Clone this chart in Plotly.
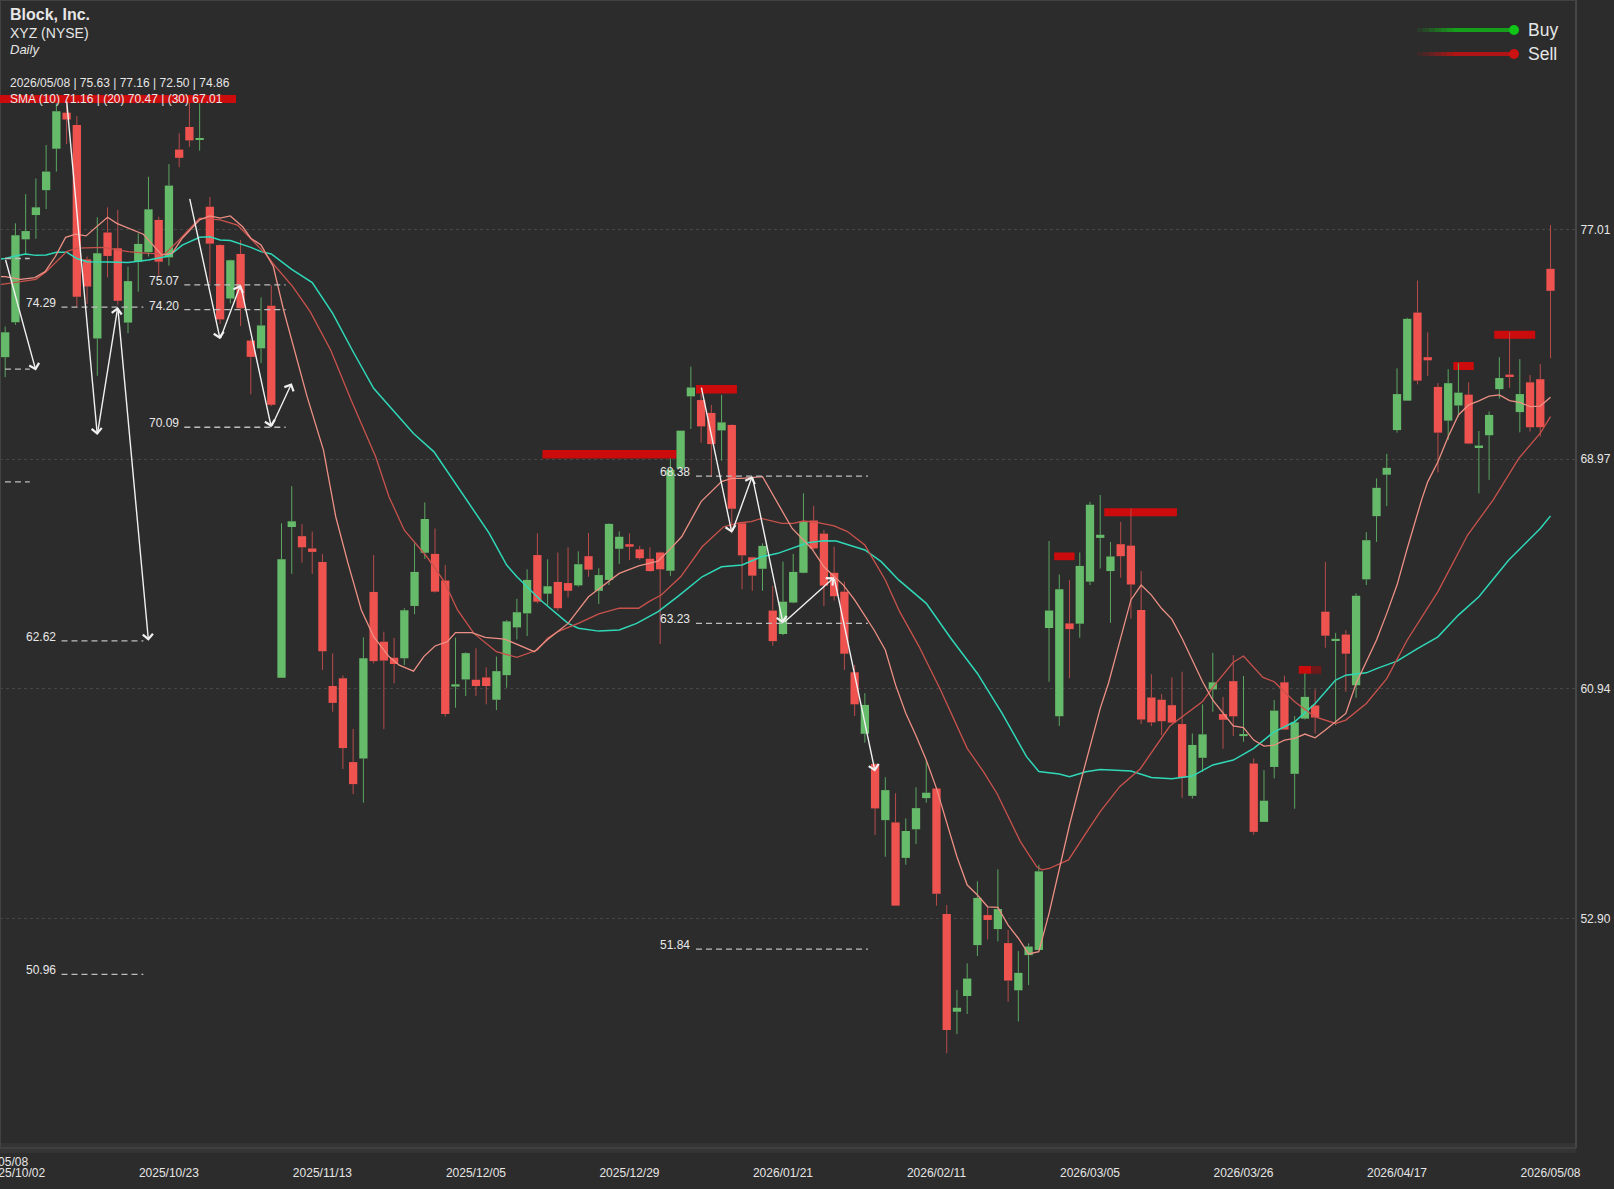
import plotly.graph_objects as go

#candles, index 0..151
opens=[72.54,73.76,76.66,77.51,78.38,79.83,81.09,80.66,75.96,73.19,
76.90,76.35,73.75,75.88,76.21,77.34,76.03,79.80,80.59,80.15,
77.80,76.46,74.59,76.15,73.12,72.85,74.34,61.33,66.60,66.28,
65.85,65.38,61.04,61.31,58.38,58.51,64.33,62.59,62.03,62.01,
63.84,65.70,65.66,64.73,61.02,61.27,61.26,61.34,60.56,61.42,
63.09,63.58,65.62,64.27,64.68,64.64,64.56,65.58,64.37,64.75,
65.84,66.00,65.82,65.49,65.71,65.07,68.65,71.17,71.04,70.59,
69.98,70.17,66.73,65.54,65.14,63.68,62.86,63.96,65.00,66.83,
66.37,65.00,64.34,61.52,59.37,58.31,56.35,56.27,55.03,56.03,
57.12,57.46,53.07,49.65,50.20,51.98,53.03,52.54,52.05,50.40,
51.63,51.81,63.07,59.98,63.23,63.22,64.69,66.22,65.06,66.00,
65.95,63.70,60.64,60.56,60.37,59.71,57.20,58.53,60.92,60.06,
61.21,59.29,58.33,56.29,58.21,61.17,57.97,59.90,60.36,63.64,
62.63,62.84,61.07,64.77,66.98,68.43,69.99,71.02,74.10,72.54,
71.50,70.32,70.85,71.23,69.39,69.81,71.42,71.93,70.62,71.66,
71.77,75.63]
highs=[73.61,77.22,78.24,78.79,79.96,81.42,81.53,80.97,76.06,77.43,
77.78,77.69,75.71,76.87,78.85,77.45,79.29,80.37,81.47,81.42,
78.15,76.49,75.95,76.64,73.17,74.63,75.06,66.73,68.03,66.70,
66.44,65.66,62.18,61.41,59.54,62.74,65.62,62.94,62.72,63.76,
66.03,67.46,66.55,65.27,62.73,62.22,62.36,61.69,62.07,63.35,
64.09,65.12,66.38,65.47,65.71,65.89,65.75,66.39,65.16,66.73,
66.45,66.38,65.94,65.89,65.74,69.00,69.97,72.21,71.27,70.87,
71.22,70.19,66.75,65.56,66.03,64.54,65.39,65.66,67.78,67.34,
66.50,65.91,64.69,61.78,60.79,58.34,57.85,57.29,56.41,57.50,
58.45,57.50,53.38,50.41,51.34,54.21,53.32,54.63,52.51,51.77,
52.04,54.79,66.11,64.94,64.74,65.71,67.48,67.72,66.08,66.78,
67.25,65.06,61.45,60.76,61.34,61.54,59.38,60.40,62.20,60.66,
62.12,61.39,58.51,58.10,60.55,61.40,59.99,61.48,60.92,65.38,
62.90,62.99,64.28,66.42,68.30,69.16,72.15,73.92,75.22,73.41,
71.63,72.12,72.33,71.66,69.96,70.64,72.54,73.43,72.47,71.92,
72.30,77.16]
lows=[71.84,73.67,76.11,76.68,77.72,79.03,79.99,74.28,74.40,71.89,
75.33,74.37,73.38,74.83,76.06,75.36,75.74,79.18,79.89,79.76,
75.12,73.70,74.42,73.63,71.24,72.33,70.83,61.33,64.96,65.36,
64.96,61.60,60.14,58.14,57.26,56.96,61.83,59.54,61.13,61.77,
63.55,65.48,64.31,59.97,60.28,60.69,60.69,60.40,60.20,60.98,
62.67,62.79,63.93,63.87,63.68,64.14,64.51,64.86,63.91,64.57,
65.31,65.45,65.45,65.04,62.51,64.89,68.59,70.03,69.55,68.36,
68.92,66.38,64.42,64.37,64.37,62.45,62.82,63.93,64.98,65.80,
63.84,64.03,61.60,59.99,59.06,55.83,55.07,53.35,54.79,55.51,
56.96,53.36,48.20,48.87,49.57,51.60,52.18,52.11,50.00,49.31,
50.58,51.79,61.19,59.64,61.31,62.73,64.57,65.15,63.25,64.83,
63.40,59.71,59.64,59.32,59.73,57.13,57.10,58.04,60.14,58.85,
59.29,59.09,55.84,56.29,57.81,59.50,56.75,59.87,59.38,62.38,
59.67,60.84,60.63,64.57,66.08,67.33,69.90,71.01,71.59,71.88,
68.51,69.65,70.46,69.49,67.78,68.25,71.09,71.47,69.91,69.94,
69.76,72.50]
closes=[73.41,76.80,76.95,77.78,79.03,81.14,80.85,74.65,75.01,76.17,
76.08,74.51,75.20,76.50,77.71,75.88,78.54,79.51,80.12,80.19,
76.51,73.86,75.93,74.25,72.55,73.65,70.88,65.47,66.80,65.89,
65.73,62.26,60.45,58.87,57.61,62.01,61.91,61.93,61.81,63.69,
65.03,66.88,64.34,60.06,61.10,62.19,61.04,61.04,61.56,63.30,
63.62,64.75,63.99,64.53,63.76,64.37,65.30,65.11,64.92,66.71,
66.26,65.91,65.51,65.06,65.12,68.60,69.97,71.48,70.12,69.50,
70.26,67.24,65.61,64.90,65.94,62.61,63.99,65.03,66.80,65.85,
64.55,64.18,62.17,60.40,60.38,56.76,57.40,53.36,55.97,56.77,
57.31,53.78,49.01,49.79,50.81,53.63,52.86,53.24,50.74,51.01,
51.93,54.56,63.68,64.42,63.03,65.24,67.38,66.33,65.57,65.58,
64.59,59.87,59.77,59.81,59.76,57.84,58.98,59.35,61.17,59.86,
59.98,59.36,55.94,57.03,60.18,59.52,59.77,60.66,59.94,62.80,
62.69,62.17,64.20,66.14,67.97,68.67,71.25,73.88,71.72,72.43,
69.90,71.63,71.30,69.52,69.45,70.52,71.81,71.88,71.25,70.09,
70.09,74.86]
candle_x=list(range(len(opens)))

#moving averages, read at the corners of each line
sma10_x=[-1,0,1.5,2.9,3.9,4.9,5.9,6.9,7.9,8.9,10,10.9,12,13.5,14.3,15.3,16.3,17.3,19,20,21,22,23.2,24,25,26.2,27.2,28.2,29.5,
31.1,32.3,33.5,34.8,36,37.5,38.5,39.9,40.9,42,43.2,44,45.6,46.9,48.8,50.3,51.7,53,55,57,59,60,61.9,63.8,64.9,66.1,68,69,70,71,72,74,75,76,76.9,78.8,80,81.9,83,84.9,86,87,88,89,90,91,92,93,94,95,96,97,98,99,100,101,102,103,104,105,106,107,107.8,110,111,112,113,114,115,116,117,118,119,120,121,122,123,124,125,126,127,128,129,130,131,132,133,134,135,136,137,138,138.4,139,140,141,142,143,144,145,146,147,148,149,150,151]
sma10=[75.36,75.36,75.26,75.32,75.53,76.06,76.73,76.84,76.78,77.10,77.43,77.22,77.05,76.84,76.52,76.11,76.17,76.70,77.34,77.48,77.40,77.48,77.10,76.70,76.46,75.71,74.19,72.91,71.16,
69.29,66.96,65.33,63.70,62.77,62.07,61.77,61.56,62.07,62.44,62.59,62.91,62.91,62.74,62.68,62.45,62.24,62.67,63.23,64.16,64.69,64.98,65.24,65.41,65.80,66.26,67.49,67.84,68.19,68.30,68.30,68.36,67.72,67.08,66.55,65.85,65.21,64.57,64.05,63.00,62.30,61.08,60.09,59.30,58.45,57.46,56.24,55.07,54.08,53.73,53.32,53.30,52.68,52.22,51.67,51.75,53.09,54.61,56.18,57.58,58.92,60.26,61.13,64.05,64.57,64.22,63.75,63.38,62.70,61.95,61.19,60.55,60.08,59.65,59.59,59.15,58.94,58.97,59.15,59.21,59.36,59.23,59.50,59.79,60.08,61.13,61.89,62.65,63.58,64.57,65.85,67.13,67.55,68.18,68.88,69.76,70.52,70.87,71.01,71.18,71.22,71.02,70.96,70.81,70.83,71.14]
sma20_x=[-1,0,3,4,6,7,9.6,12,14,15.6,17,19,21,22.7,24,25.4,26.4,28.1,29.8,31.8,33.8,36.2,37.5,39,41.2,42.9,44.2,45.8,48,50,52,53,54,56,58,60,61.9,62.9,64.1,66,68.1,70.2,71.8,72.9,73.9,75.9,77,78,79.3,81,82.3,84,86,87.4,89.3,91.4,94,95.6,96.9,99.2,100.8,101.3,102,103.9,105.7,107,108.9,110.9,113.8,117,118.3,120,121,122.9,124,126,128,130,131,133,135,137,140,142.9,145.4,147.9,150,151]
sma20=[75.05,75.10,75.26,75.53,76.23,76.35,76.38,76.23,76.17,76.15,76.64,77.40,77.34,77.16,76.70,76.17,75.71,75.01,74.13,72.79,71.04,69.06,67.66,66.49,65.56,64.69,63.70,62.88,62.24,62.04,62.30,62.71,62.94,63.23,63.56,63.76,63.76,63.99,64.22,64.86,65.91,66.61,66.75,66.79,66.90,66.73,66.73,66.81,66.76,66.64,66.44,65.97,64.75,63.64,62.42,60.90,58.86,58.04,57.29,55.60,54.72,54.61,54.66,54.96,55.95,56.65,57.52,58.14,59.64,60.50,61.13,61.87,62.09,61.34,61.19,60.49,59.96,59.73,59.85,60.43,61.30,62.65,64.34,66.32,67.55,69.00,69.88,70.46]
sma30_x=[-1,0,1,2,3,4,5,6,7,8,10,12,14,16,17.3,19,20,21,22,24,25,26,28,30,32,34,36,37,39.9,41.9,44.9,47.3,49,50,52.3,55,56,58,60,61.7,63.8,65.8,68.1,70,72,73.9,75.5,77.2,78.4,80,81.2,84,85.6,87.3,90,92.4,95,97.4,99.8,101,103,104,105.6,107,110,112,114,116,118,120,122,124,126,128,130,131,133,134,136,138,140,142,144,146.9,150,151]
sma30=[75.95,75.99,76.08,76.15,76.10,76.11,76.21,76.21,75.99,75.88,75.87,75.85,75.94,76.08,76.46,76.73,76.75,76.64,76.62,76.38,76.23,76.15,75.61,75.15,74.07,72.73,71.45,71.04,69.87,69.23,67.66,66.38,65.27,64.86,64.05,63.23,63.06,62.96,63.00,63.23,63.64,64.19,64.86,65.21,65.27,65.56,65.68,65.89,66.05,66.12,66.11,65.80,65.39,64.75,63.93,62.71,61.48,60.09,58.57,58.05,57.96,57.87,58.04,58.12,58.07,57.84,57.80,57.89,58.28,58.45,58.86,59.44,59.79,60.43,61.25,61.42,61.50,61.65,61.91,62.35,62.76,63.52,64.16,65.44,66.55,66.99]

#white swing arrows
arrow_x0=[0,6,9,11,18,21,23,26,68,71,73,76,81]
arrow_y0=[75.99,81.53,69.82,74.29,78.13,73.17,75.07,70.09,71.53,66.40,68.38,63.23,64.84]
arrow_x1=[3,9,11,14,21,23,26,28,71,73,76,81,85]
arrow_y1=[72.07,69.82,74.29,62.62,73.17,75.07,70.09,71.63,66.40,68.38,63.23,64.84,58.05]

#dashed price levels
level_x0=[5.5,5.5,5.5,17.5,17.5,17.5,67.5,67.5,67.5,-1,-1,-1]
level_x1=[13.5,13.5,13.5,27.4,27.4,27.4,84.3,84.3,84.3,2.4,2.4,2.4]
level_y=[74.29,62.62,50.96,75.07,74.20,70.09,68.38,63.23,51.84,75.99,72.12,68.18]
level_text=["74.29","62.62","50.96","75.07","74.20","70.09","68.38","63.23","51.84","","",""]

#red sell zones
zone_x0=[52.5,67.5,102.5,107.4,126.4,127.6,141.5,145.5]
zone_x1=[65.6,71.5,104.5,114.5,127.6,128.6,143.5,149.5]
zone_y0=[69.00,71.27,65.44,66.98,61.47,61.47,72.09,73.18]
zone_y1=[69.29,71.57,65.71,67.26,61.74,61.74,72.37,73.46]
zone_color=["#cc0c0c","#cc0c0c","#cc0c0c","#cc0c0c","#cc0c0c","#6e1a1a","#cc0c0c","#cc0c0c"]

y_ticks=[77.01,68.97,60.94,52.90]
y_labels=["77.01","68.97","60.94","52.90"]
x_ticks=[16,31,46,61,76,91,106,121,136,151]
x_labels=["2025/10/23","2025/11/13","2025/12/05","2025/12/29","2026/01/21","2026/02/11","2026/03/05","2026/03/26","2026/04/17","2026/05/08"]

BG="#2c2c2c"
FONT="Liberation Sans, Arial, sans-serif"
PLOT_W=1576
PLOT_H=1147

def px(v):
  return v/PLOT_W
def py(v):
  return 1-v/PLOT_H

fig=go.Figure()

#wicks only outside the body, bodies as bars so they can be wider and have no outline
for is_up,body,wick in [(True,"#66bb6a","#5ba661"),(False,"#ef5350","#b84c4a")]:
  idx=[i for i in candle_x if (closes[i]>=opens[i])==is_up]
  wx=[]
  wy=[]
  for i in idx:
    wx+=[i,i,None,i,i,None]
    wy+=[highs[i],max(opens[i],closes[i]),None,min(opens[i],closes[i]),lows[i],None]
  fig.add_trace(go.Scatter(x=wx,y=wy,mode="lines",line=dict(color=wick,width=1),hoverinfo="skip",showlegend=False))
  fig.add_trace(go.Bar(x=idx,y=[abs(closes[i]-opens[i]) for i in idx],base=[min(opens[i],closes[i]) for i in idx],width=0.81,
    marker=dict(color=body,line=dict(width=0)),hoverinfo="skip",showlegend=False))

for xs,ys,color,w in [(sma30_x,sma30,"#2fd8b8",1.5),(sma20_x,sma20,"#c9524c",1.3),(sma10_x,sma10,"#ec8f84",1.3)]:
  fig.add_trace(go.Scatter(x=xs,y=ys,mode="lines",line=dict(color=color,width=w),hoverinfo="skip",showlegend=False))

for i in range(len(level_y)):
  fig.add_trace(go.Scatter(x=[level_x0[i],level_x1[i]],y=[level_y[i],level_y[i]],mode="lines",
    line=dict(color="#bdbdbd",width=1.3,dash="6px,4px"),hoverinfo="skip",showlegend=False))
  if level_text[i]:
    fig.add_annotation(x=level_x0[i],y=level_y[i],xref="x",yref="y",text=level_text[i],showarrow=False,
      xanchor="right",yanchor="middle",xshift=-3.5,yshift=4,font=dict(family=FONT,size=12,color="#e8e8e8"))

for i in range(len(arrow_x0)):
  fig.add_annotation(x=arrow_x1[i],y=arrow_y1[i],ax=arrow_x0[i],ay=arrow_y0[i],xref="x",yref="y",axref="x",ayref="y",
    text="",showarrow=True,arrowhead=4,arrowsize=1.4,arrowwidth=1.4,arrowcolor="#f0f0f0",standoff=0,startstandoff=0)

shapes=[]
for i in range(len(zone_x0)):
  shapes.append(dict(type="rect",xref="x",yref="y",x0=zone_x0[i],x1=zone_x1[i],y0=zone_y0[i],y1=zone_y1[i],
    fillcolor=zone_color[i],line=dict(width=0),layer="below"))

#band under the plot and the frame lines
shapes.append(dict(type="rect",xref="paper",yref="paper",x0=0,x1=px(1576),y0=py(1153),y1=py(1143),fillcolor="#343434",line=dict(width=0)))
shapes.append(dict(type="line",xref="paper",yref="paper",x0=0,x1=px(1576),y0=py(1148),y1=py(1148),line=dict(color="#404040",width=2)))
shapes.append(dict(type="line",xref="paper",yref="paper",x0=px(1576),x1=px(1576),y0=py(0),y1=py(1148),line=dict(color="#464646",width=2)))
shapes.append(dict(type="line",xref="paper",yref="paper",x0=px(0.5),x1=px(0.5),y0=py(0),y1=py(1148),line=dict(color="#424242",width=1)))
shapes.append(dict(type="line",xref="paper",yref="paper",x0=0,x1=px(1576),y0=py(0.5),y1=py(0.5),line=dict(color="#424242",width=1)))
#header strip behind the SMA line
shapes.append(dict(type="rect",xref="paper",yref="paper",x0=0,x1=px(236),y0=py(103),y1=py(95),fillcolor="#cc0c0c",line=dict(width=0)))

#legend lines fade in from the left
for legend_y,rgb in [(30,"18,180,24"),(54,"200,16,16")]:
  for k in range(16):
    shapes.append(dict(type="line",xref="paper",yref="paper",x0=px(1417+6*k),x1=px(1423+6*k),y0=py(legend_y),y1=py(legend_y),
      line=dict(color="rgba(%s,%.2f)"%(rgb,min(1,(k+1)/7)*0.85),width=4)))
shapes.append(dict(type="circle",xref="paper",yref="paper",xsizemode="pixel",ysizemode="pixel",xanchor=px(1514),yanchor=py(30),x0=-5,x1=5,y0=-5,y1=5,fillcolor="#10c418",line=dict(width=0)))
shapes.append(dict(type="circle",xref="paper",yref="paper",xsizemode="pixel",ysizemode="pixel",xanchor=px(1514),yanchor=py(54),x0=-5,x1=5,y0=-5,y1=5,fillcolor="#cc1212",line=dict(width=0)))

def label(x,y,text,size,color="#e6e6e6",anchor="left"):
  fig.add_annotation(x=px(x),y=py(y),xref="paper",yref="paper",text=text,showarrow=False,xanchor=anchor,yanchor="middle",
    borderpad=0,font=dict(family=FONT,size=size,color=color))

label(9,14.5,"<b>Block, Inc.</b>",16)
label(9,33,"XYZ (NYSE)",14)
label(9,50,"<i>Daily</i>",13)
label(9,83,"2026/05/08 | 75.63 | 77.16 | 72.50 | 74.86",12)
label(9,99,"SMA (10) 71.16 | (20) 70.47 | (30) 67.01",12)
label(1527,30,"Buy",17.5)
label(1527,54,"Sell",17.5)
#the first date and the crosshair date run off the left edge
label(29,1161.5,"2026/05/08",12,anchor="right")
label(45.5,1172.5,"2025/10/02",12,anchor="right")

fig.update_layout(width=1614,height=1189,margin=dict(l=0,r=38,t=0,b=42),paper_bgcolor=BG,plot_bgcolor=BG,
  shapes=shapes,showlegend=False,hovermode=False,font=dict(family=FONT,size=12,color="#e6e6e6"))
fig.update_xaxes(range=[-0.508,153.49],showgrid=False,zeroline=False,showline=False,
  tickmode="array",tickvals=x_ticks,ticktext=x_labels,ticks="outside",ticklen=15,tickcolor="rgba(0,0,0,0)",tickangle=0,
  tickfont=dict(family=FONT,size=12,color="#e6e6e6"))
fig.update_yaxes(range=[44.92,85.03],side="right",showgrid=True,griddash="dot",gridcolor="#464646",gridwidth=1,zeroline=False,showline=False,
  tickmode="array",tickvals=y_ticks,ticktext=y_labels,ticks="outside",ticklen=1,tickcolor="rgba(0,0,0,0)",tickfont=dict(family=FONT,size=12,color="#e6e6e6"))

fig.write_html("out.html",config={"displayModeBar":False},post_script="document.body.style.margin='0';document.body.style.background='%s';"%BG)
